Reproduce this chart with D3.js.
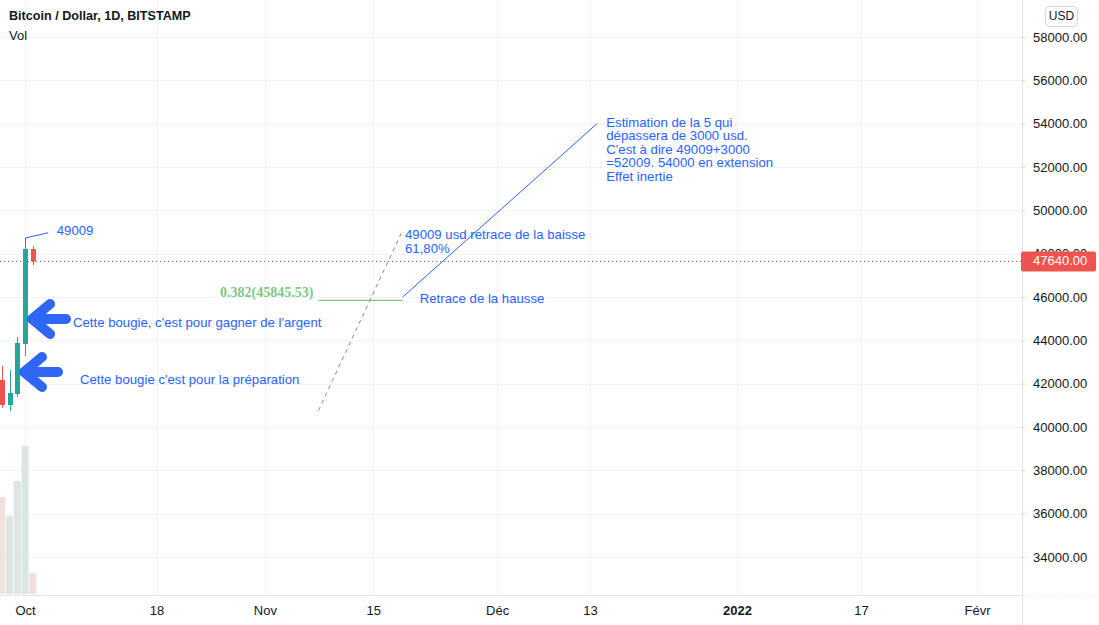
<!DOCTYPE html>
<html><head><meta charset="utf-8">
<script src="https://cdn.jsdelivr.net/npm/d3@7"></script>
<style>
html,body{margin:0;padding:0;background:#fff;}
svg{display:block;font-family:"Liberation Sans",Arial,sans-serif;}
</style></head>
<body><svg id="c" width="1099" height="625"></svg>
<script>
// ---- data ----
const dates  = ["2021-09-28","2021-09-29","2021-09-30","2021-10-01","2021-10-02"];
const opens  = [42170, 41017, 41525, 43832, 48216];
const highs  = [42817, 42632, 44155, 48539, 48355];
const lows   = [40878, 40740, 41386, 43278, 47478];
const closes = [41017, 41570, 43878, 48216, 47640];
const volumes = [5243, 4216, 6108, 8000, 1135];
const lastPrice = 47640;
const priceTicks = [34000,36000,38000,40000,42000,44000,46000,48000,50000,52000,54000,56000,58000];
const timeTickDates  = ["2021-10-01","2021-10-18","2021-11-01","2021-11-15","2021-12-01","2021-12-13","2022-01-01","2022-01-17","2022-02-01"];
const timeTickLabels = ["Oct","18","Nov","15","Déc","13","2022","17","Févr"];
const fibLevel = 45845.53;
const fibLabel = "0.382(45845.53)";
const calloutPrice = 49009;
// annotation texts: [days after Oct 1, price, lines]
const notes = [
  [4.1, 49009, ["49009"]],
  [6.2, 44754, ["Cette bougie, c'est pour gagner de l'argent"]],
  [7.1, 42123, ["Cette bougie c'est pour la préparation"]],
  [49.1, 48815, ["49009 usd retrace de la baisse","61,80%"]],
  [51.0, 45862, ["Retrace de la hausse"]],
  [75.1, 53985, ["Estimation de la 5 qui","dépassera de 3000 usd.","C'est à dire 49009+3000","=52009. 54000 en extension","Effet inertie"]]
];
const arrowTips = [[0.78, 44985],[-0.26, 42538]];
const dashedLine = [[37.9, 40750],[48.7, 49009]];
const fibSpan = [37.9, 48.8];
const blueLine = [[48.8, 46000],[73.9, 54000]];

// ---- setup ----
const svg = d3.select("#c");
const W = 1099, H = 625, plotR = 1022, plotB = 595;
const parse = d3.utcParse("%Y-%m-%d");
const day = 86400000;
const t0 = parse("2021-10-01");
const x = d3.scaleUtc().domain([t0, parse("2022-02-01")]).range([25, 977]);
const xd = d => x(new Date(+t0 + d*day));
const y = d3.scaleLinear().domain([34000, 58000]).range([557, 37]);
const yv = d3.scaleLinear().domain([0, 8000]).range([594, 446]);

const blue = "#2962ff", green = "#26a69a", red = "#ef5350";

// grid
const g = svg.append("g");
g.selectAll(".hg").data(priceTicks).join("line")
  .attr("x1",0).attr("x2",plotR).attr("y1",d=>Math.round(y(d))+0.5).attr("y2",d=>Math.round(y(d))+0.5)
  .attr("stroke","#f0f3fa");
g.selectAll(".vg").data(timeTickDates).join("line")
  .attr("y1",0).attr("y2",plotB).attr("x1",d=>Math.round(x(parse(d)))+0.5).attr("x2",d=>Math.round(x(parse(d)))+0.5)
  .attr("stroke","#f0f3fa");

const plot = svg.append("g");
svg.append("clipPath").attr("id","clip").append("rect").attr("x",0).attr("y",0).attr("width",plotR).attr("height",plotB);
plot.attr("clip-path","url(#clip)");

// volume
plot.selectAll(".vol").data(dates).join("rect")
  .attr("x",(d,i)=>x(parse(d))-3.5).attr("width",7)
  .attr("y",(d,i)=>yv(volumes[i])).attr("height",(d,i)=>yv(0)-yv(volumes[i]))
  .attr("fill",(d,i)=>closes[i]>=opens[i]?"#dae6df":"#f2dfe0");

// last price line
plot.append("line").attr("x1",0).attr("x2",plotR).attr("y1",Math.round(y(lastPrice))+0.5).attr("y2",Math.round(y(lastPrice))+0.5)
  .attr("stroke",red).attr("stroke-dasharray","1,3");

// candles
const cg = plot.selectAll(".cd").data(dates).join("g");
cg.append("line")
  .attr("x1",d=>Math.round(x(parse(d)))+0.5).attr("x2",d=>Math.round(x(parse(d)))+0.5)
  .attr("y1",(d,i)=>y(highs[i])).attr("y2",(d,i)=>y(lows[i]))
  .attr("stroke",(d,i)=>closes[i]>=opens[i]?green:red);
cg.append("rect")
  .attr("x",d=>Math.round(x(parse(d)))-2).attr("width",5)
  .attr("y",(d,i)=>y(Math.max(opens[i],closes[i])))
  .attr("height",(d,i)=>Math.max(1,Math.abs(y(opens[i])-y(closes[i]))))
  .attr("fill",(d,i)=>closes[i]>=opens[i]?green:red);

// callout line 49009
plot.append("polyline")
  .attr("points",[[x(t0)+0.5,y(highs[3])],[x(t0)+0.5,y(highs[3])-4],[xd(3),y(calloutPrice)+1]].map(p=>p.join(",")).join(" "))
  .attr("fill","none").attr("stroke",blue).attr("stroke-width",1);

// dashed line
plot.append("line").attr("x1",xd(dashedLine[0][0])).attr("y1",y(dashedLine[0][1]))
  .attr("x2",xd(dashedLine[1][0])).attr("y2",y(dashedLine[1][1]))
  .attr("stroke","#888").attr("stroke-dasharray","4,4").attr("stroke-width",1);

// fib line
plot.append("line").attr("x1",xd(fibSpan[0])).attr("x2",xd(fibSpan[1]))
  .attr("y1",y(fibLevel)).attr("y2",y(fibLevel)).attr("stroke","#81c784").attr("stroke-width",1.2);
plot.append("text").attr("x",xd(fibSpan[0])-5).attr("y",y(fibLevel)-7).attr("text-anchor","end")
  .attr("dominant-baseline","middle").attr("fill","#81c784").attr("font-size",14).attr("font-family","'Liberation Serif',serif").attr("font-weight","bold")
  .text(fibLabel);

// blue line
plot.append("line").attr("x1",xd(blueLine[0][0])).attr("y1",y(blueLine[0][1]))
  .attr("x2",xd(blueLine[1][0])).attr("y2",y(blueLine[1][1]))
  .attr("stroke",blue).attr("stroke-width",1);

// arrows
arrowTips.forEach(([d,p])=>{
  const tx = xd(d), ty = y(p);
  plot.append("path")
    .attr("d",`M${tx+19},${ty-15} L${tx+1},${ty} L${tx+19},${ty+15} M${tx+1},${ty} L${tx+35},${ty}`)
    .attr("fill","none").attr("stroke","#2f66f6").attr("stroke-width",10)
    .attr("stroke-linecap","round").attr("stroke-linejoin","round");
});

// notes
notes.forEach(([d,p,lines])=>{
  const t = plot.append("text").attr("x",xd(d)).attr("y",y(p)).attr("fill",blue).attr("font-size",13.2)
    .attr("dominant-baseline","middle");
  lines.forEach((l,i)=>t.append("tspan").attr("x",xd(d)).attr("dy",i?13.5:0).text(l));
});

// axes borders
svg.append("line").attr("x1",plotR+0.5).attr("x2",plotR+0.5).attr("y1",0).attr("y2",H).attr("stroke","#e0e3eb");
svg.append("line").attr("x1",0).attr("x2",plotR).attr("y1",plotB+0.5).attr("y2",plotB+0.5).attr("stroke","#e0e3eb");
svg.append("line").attr("x1",plotR).attr("x2",W).attr("y1",plotB+0.5).attr("y2",plotB+0.5).attr("stroke","#e0e3eb").attr("stroke-dasharray","1,2");

// right axis
const ya = d3.axisRight(y).tickValues(priceTicks).tickFormat(d3.format(".2f")).tickSize(3);
const yag = svg.append("g").attr("transform",`translate(${plotR},0)`).call(ya);
yag.select(".domain").remove();
yag.selectAll("line").attr("stroke","#d1d4dc");
yag.selectAll("text").attr("x",11).attr("fill","#131722").attr("font-size",13).attr("font-family","'Liberation Sans',Arial,sans-serif");

// bottom axis
const xa = d3.axisBottom(x).tickValues(timeTickDates.map(parse)).tickFormat((d,i)=>timeTickLabels[i]).tickSize(0);
const xag = svg.append("g").attr("transform",`translate(0,${plotB})`).call(xa);
xag.select(".domain").remove();
xag.selectAll("text").attr("y",11).attr("dy","0.71em").attr("fill","#131722").attr("font-size",13)
  .attr("font-family","'Liberation Sans',Arial,sans-serif")
  .attr("font-weight",(d,i)=>timeTickLabels[i]==="2022"?"bold":"normal");

// last price label
svg.append("rect").attr("x",plotR-1).attr("y",y(lastPrice)-10).attr("width",75).attr("height",20).attr("rx",2).attr("fill",red);
svg.append("text").attr("x",plotR+11).attr("y",y(lastPrice)).attr("dominant-baseline","middle").attr("fill","#fff").attr("font-size",13)
  .text(d3.format(".2f")(lastPrice));

// USD box
svg.append("rect").attr("x",1045.5).attr("y",6.5).attr("width",32).attr("height",20).attr("rx",4).attr("fill","#fff").attr("stroke","#d1d4dc");
svg.append("text").attr("x",1061.5).attr("y",17).attr("text-anchor","middle").attr("dominant-baseline","middle").attr("font-size",12).attr("fill","#131722").text("USD");

// title
svg.append("text").attr("x",9).attr("y",17).attr("dominant-baseline","middle").attr("font-weight","bold").attr("font-size",12.6).attr("fill","#131722")
  .text("Bitcoin / Dollar, 1D, BITSTAMP");
svg.append("text").attr("x",9).attr("y",37).attr("dominant-baseline","middle").attr("font-size",13).attr("fill","#131722").text("Vol");
</script></body></html>
